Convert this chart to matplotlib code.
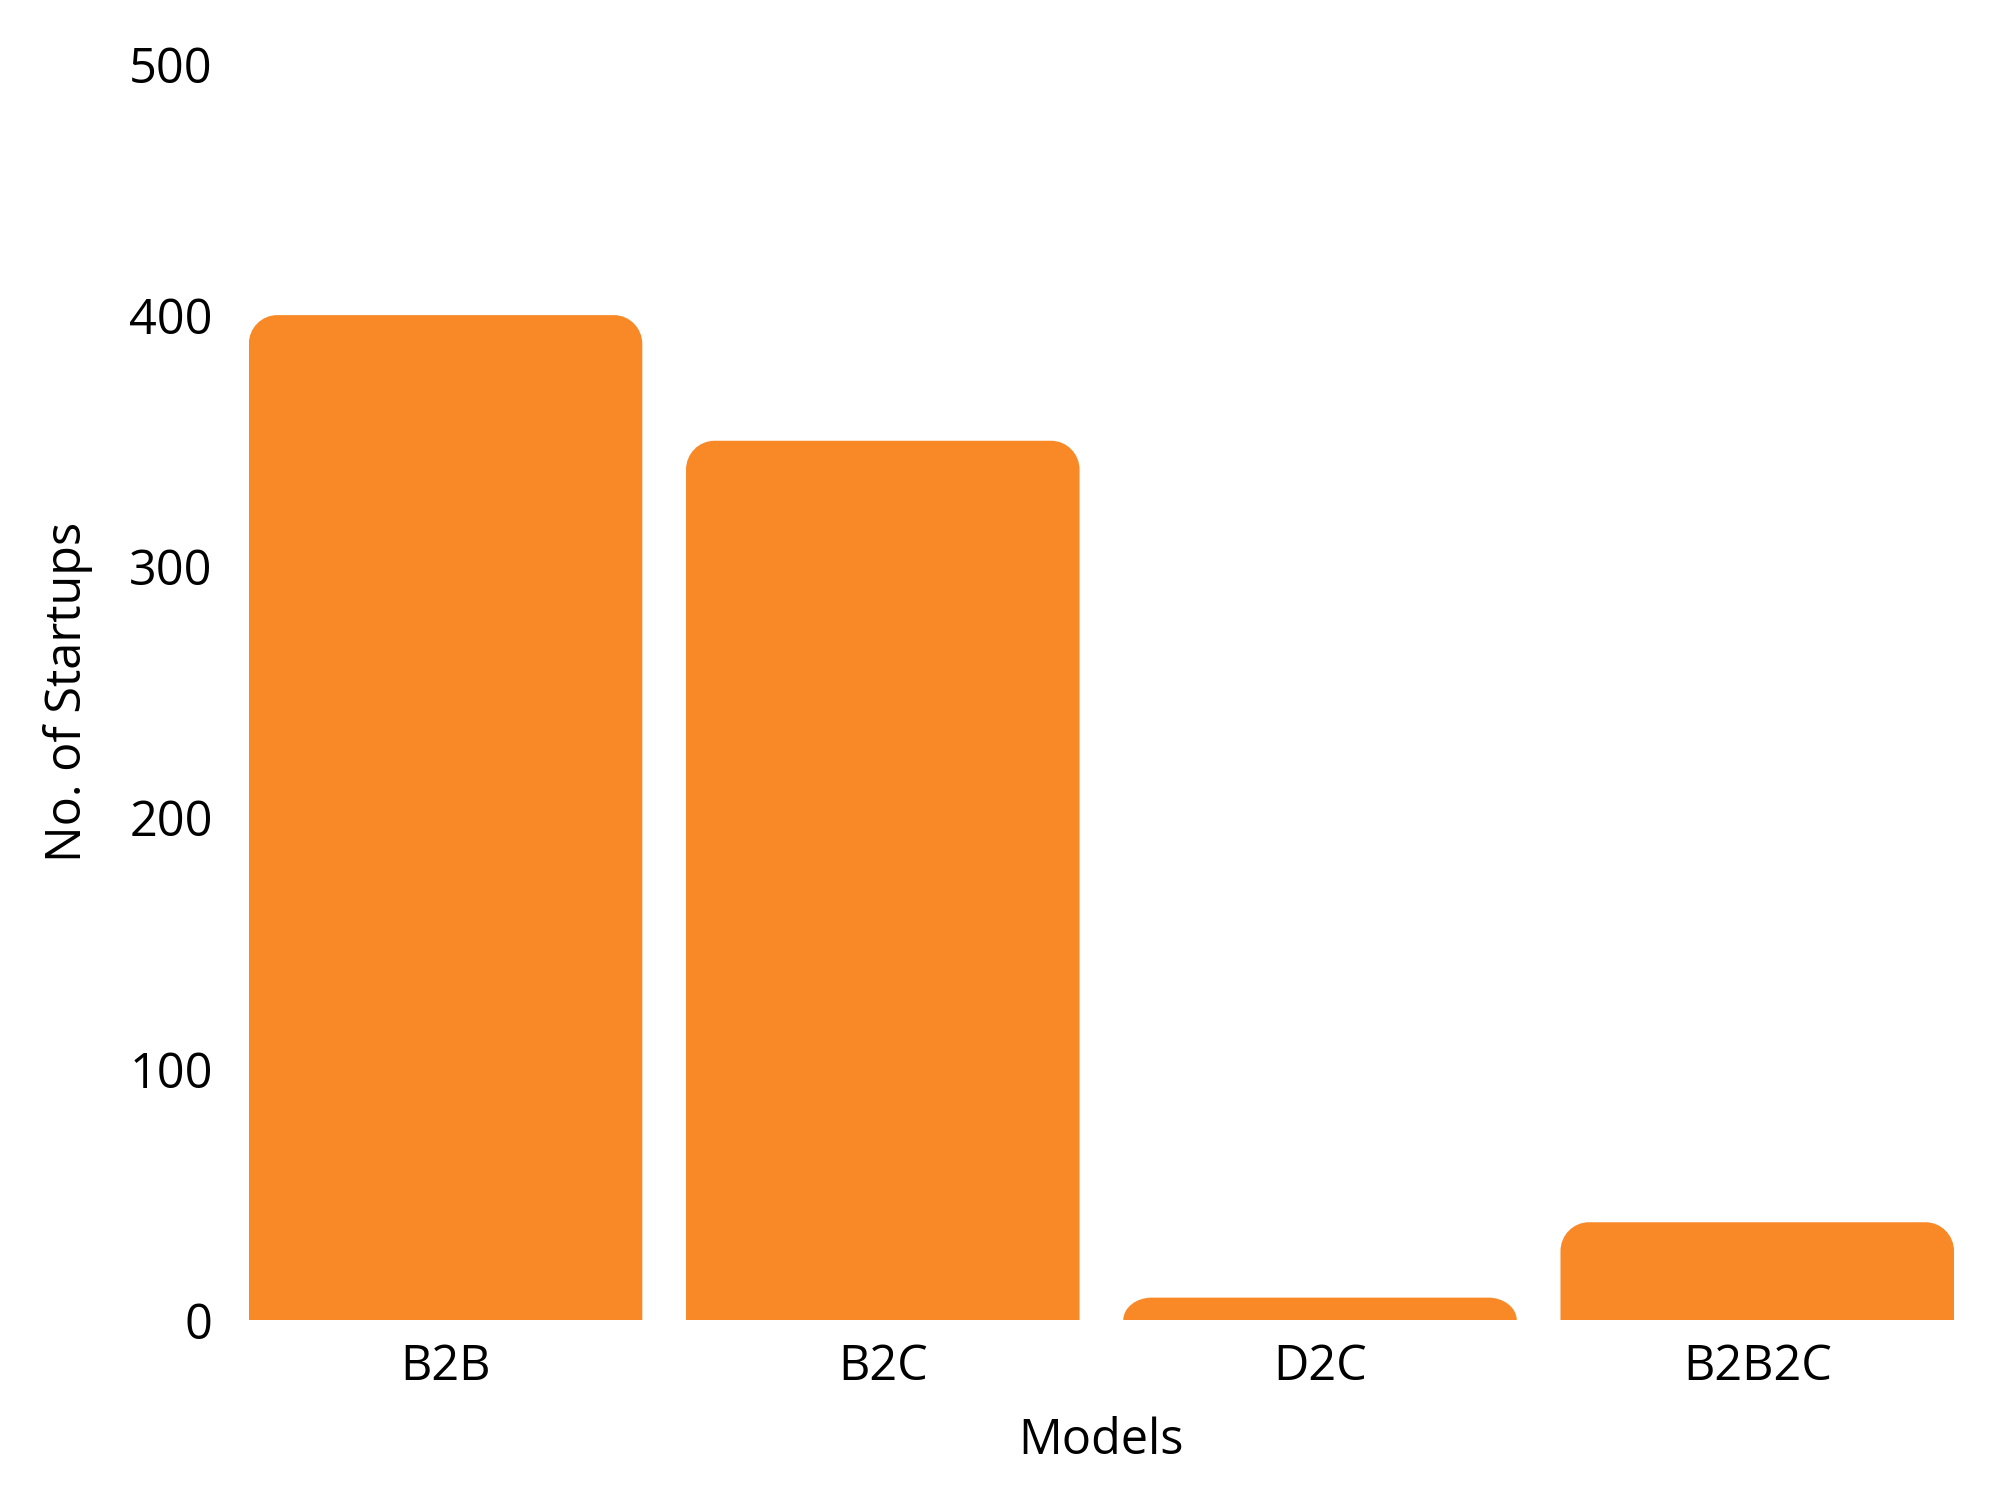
import matplotlib
matplotlib.use("Agg")
from matplotlib import pyplot as plt
from matplotlib.path import Path
from matplotlib.patches import PathPatch

models = ["B2B", "B2C", "D2C", "B2B2C"]
startups = [400, 350, 9, 39]
yticks = [0, 100, 200, 300, 400, 500]

bar_color = "#F98826"
bar_width = 0.9

plt.rcParams['font.family'] = ['Open Sans', 'DejaVu Sans']

fig = plt.figure(figsize=(10, 7.51), dpi=200)
ax = fig.add_axes([0.1244, 0.121, 0.8526, 0.8365])

ax.set_xlim(-0.45, 3.45)
ax.set_ylim(0, 500)


def top_rounded(x0, w, h, rx, ry):
    # rectangle with rounded top corners, in data coords
    ry = min(ry, h)
    k = 0.5523
    verts = [
        (x0, 0),
        (x0, h - ry),
        (x0, h - ry + k * ry), (x0 + rx - k * rx, h), (x0 + rx, h),
        (x0 + w - rx, h),
        (x0 + w - rx + k * rx, h), (x0 + w, h - ry + k * ry), (x0 + w, h - ry),
        (x0 + w, 0),
        (x0, 0),
    ]
    codes = [Path.MOVETO, Path.LINETO,
             Path.CURVE4, Path.CURVE4, Path.CURVE4,
             Path.LINETO,
             Path.CURVE4, Path.CURVE4, Path.CURVE4,
             Path.LINETO, Path.CLOSEPOLY]
    return Path(verts, codes)


rx = 0.065
ry = 11.5
for i, v in enumerate(startups):
    p = top_rounded(i - bar_width / 2, bar_width, v, rx, ry)
    ax.add_patch(PathPatch(p, facecolor=bar_color, edgecolor="none"))

for s in ax.spines.values():
    s.set_visible(False)

fs = 17.5
ax.set_xticks(range(len(models)))
ax.set_xticklabels(models)
ax.set_yticks(yticks)
ax.tick_params(axis="both", length=0, labelsize=fs, colors="black")
ax.tick_params(axis="y", pad=13)
ax.tick_params(axis="x", pad=8)

ax.set_xlabel("Models", fontsize=fs, labelpad=9)
ax.set_ylabel("No. of Startups", fontsize=fs, labelpad=13)

fig.savefig("out.png", dpi=200)
